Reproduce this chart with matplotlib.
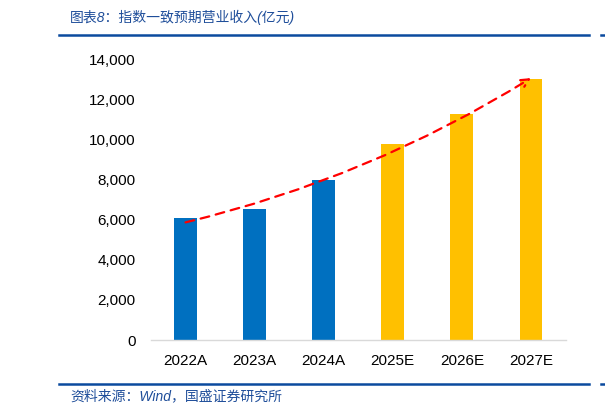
import matplotlib
matplotlib.use("Agg")
import matplotlib.pyplot as plt
from matplotlib.lines import Line2D

categories = ["2022A", "2023A", "2024A", "2025E", "2026E", "2027E"]
revenue = [6100, 6550, 7970, 9760, 11240, 13000]
is_forecast = [False, False, False, True, True, True]
yticks = [0, 2000, 4000, 6000, 8000, 10000, 12000, 14000]

title = "图表8：指数一致预期营业收入(亿元)"
source = "资料来源：Wind，国盛证券研究所"

BLUE = "#0070C0"
GOLD = "#FFC000"
RULE = "#0B4A9E"
TXT = "#1F4E9A"
mixed = ["Liberation Sans", "Noto Sans CJK SC", "DejaVu Sans"]

fig = plt.figure(figsize=(6.05, 4.15), dpi=100)
W, H = 605, 415
ax = fig.add_axes([151 / W, 1 - 340 / H, (565.5 - 151) / W, (340 - 59) / H])

x = list(range(len(categories)))
colors = [GOLD if f else BLUE for f in is_forecast]
ax.bar(x, revenue, width=0.33, color=colors, zorder=2)

ax.set_xlim(-0.5, len(categories) - 0.5)
ax.set_ylim(0, 14000)
ax.set_yticks(yticks)
ax.set_yticklabels([f"{v:,}" for v in yticks], fontfamily="Liberation Sans", fontsize=11)
ax.set_xticks(x)
ax.set_xticklabels(categories, fontfamily="Liberation Sans", fontsize=11)
ax.tick_params(axis="both", length=0, colors="black")
ax.tick_params(axis="y", pad=11)
ax.tick_params(axis="x", pad=10)
for s in ["left", "right", "top"]:
    ax.spines[s].set_visible(False)
ax.spines["bottom"].set_color("#D9D9D9")
ax.spines["bottom"].set_linewidth(1)

# trend arrow
ax.annotate("", xy=(x[-1], revenue[-1] + 50), xytext=(x[0], revenue[0] - 240),
            arrowprops=dict(arrowstyle="->", color="#FF0000", lw=1.6,
                            linestyle=(0, (4, 3)),
                            connectionstyle="arc3,rad=0.08",
                            shrinkA=0, shrinkB=0, mutation_scale=14),
            zorder=5)

# rules
for yy in (35, 384):
    fig.add_artist(Line2D([59 / W, 589 / W], [1 - yy / H] * 2, color=RULE, lw=1.8))
    fig.add_artist(Line2D([601 / W, 605 / W], [1 - yy / H] * 2, color=RULE, lw=1.8))

fig.text(70 / W, 1 - 17 / H, title, fontfamily=mixed, fontsize=10, color=TXT,
         va="center", ha="left", style="italic")
fig.text(70 / W, 1 - 396 / H, source, fontfamily=mixed, fontsize=10, color=TXT,
         va="center", ha="left", style="italic")

fig.savefig("out.png", dpi=100)
